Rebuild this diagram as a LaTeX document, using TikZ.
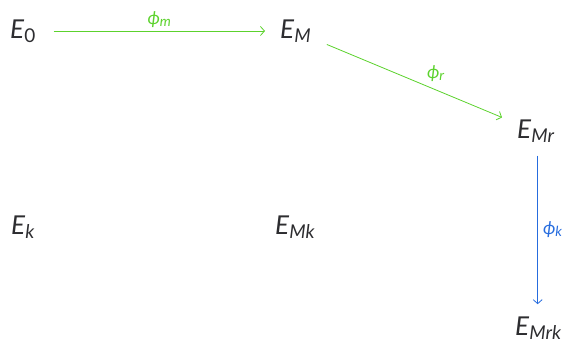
\documentclass[tikz,border=0pt]{standalone}
\usepackage{fontspec}
\setmainfont{Lato}
\usetikzlibrary{arrows.meta,positioning}
\definecolor{phigreen}{RGB}{92,210,45}
\definecolor{phiblue}{RGB}{38,108,222}
\definecolor{stategray}{RGB}{45,45,48}
\newcommand{\stateE}[1]{\textit{E}\raisebox{-3.5pt}{\fontsize{19}{21}\selectfont #1}}
\newcommand{\mapphi}[1]{\textit{ϕ}\raisebox{-2pt}{\fontsize{14}{15}\selectfont\itshape #1}}
\tikzset{
    state/.style  = {inner sep=3pt, anchor=base west, text=stategray, font=\fontsize{26}{30}\selectfont},
    maplbl/.style = {inner sep=2pt, font=\fontsize{18}{20}\selectfont},
    mapgreen/.style = {-{Straight Barb[length=4pt,width=9pt]}, line width=0.8pt, draw=phigreen},
    mapblue/.style  = {-{Straight Barb[length=4pt,width=9pt]}, line width=0.8pt, draw=phiblue}
}

\begin{document}
\begin{tikzpicture}[x=1pt, y=-1pt]
    \useasboundingbox (0,0) rectangle (568,344);

    % States
    \node[state] (e0)   at (7,39)    {\stateE{0}};
    \node[state] (em)   at (277,39)  {\stateE{\itshape M}};
    \node[state] (emr)  at (514,139) {\stateE{\itshape Mr}};
    \node[state] (ek)   at (8,235)   {\stateE{\itshape k}};
    \node[state] (emk)  at (272,235) {\stateE{\itshape Mk}};
    \node[state] (emrk) at (512,336) {\stateE{\itshape Mrk}};

    % Maps
    \draw[mapgreen] ([xshift=15pt, yshift=8pt]e0.base east) -- node[maplbl, above=1pt, text=phigreen] {\mapphi{m}} ([xshift=-12pt, yshift=8pt]em.base west);
    \draw[mapgreen, shorten <=14pt, shorten >=13pt] (em) -- node[maplbl, pos=0.55, above right=1pt, text=phigreen] {\mapphi{r}} (emr);
    \draw[mapblue, shorten <=10pt, shorten >=10pt] ([xshift=2pt]emr.south) -- node[maplbl, right=3pt, text=phiblue] {\mapphi{k}} ([xshift=2pt]emr.south |- emrk.north);

\end{tikzpicture}
\end{document}
